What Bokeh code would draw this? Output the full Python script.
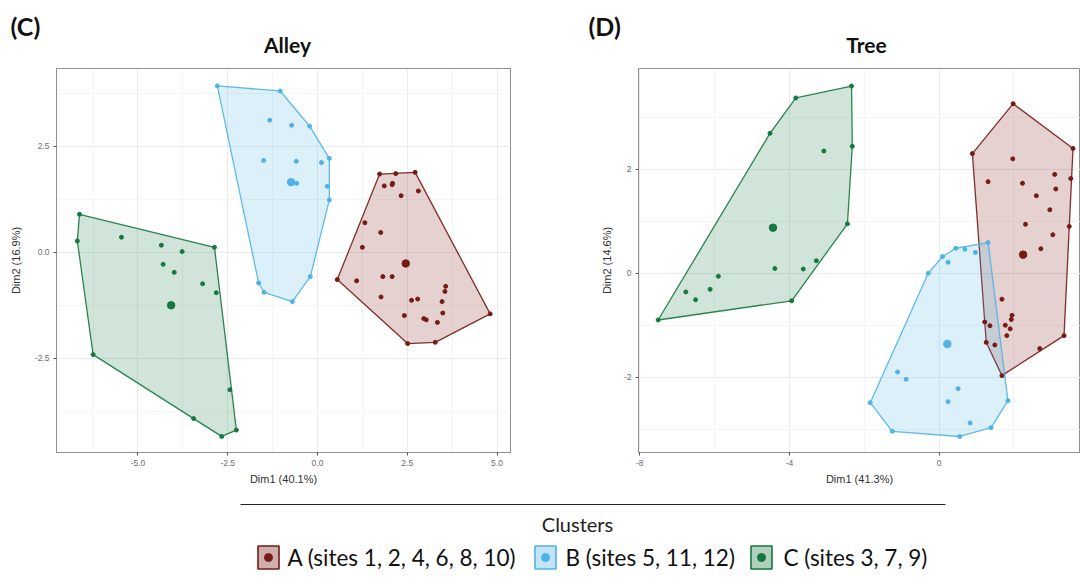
import numpy as np
from bokeh.plotting import figure
from bokeh.layouts import column, row
from bokeh.models import Range1d, FixedTicker, NumeralTickFormatter
from bokeh.core.properties import value
from bokeh.embed import file_html
from bokeh.resources import INLINE

# ---------------- data ----------------
cluster_names = ["A", "B", "C"]
legend_labels = ["A (sites 1, 2, 4, 6, 8, 10)", "B (sites 5, 11, 12)", "C (sites 3, 7, 9)"]
colors = ["#761A14", "#4FB3E6", "#16773F"]

alley_A_x = [1.73, 2.18, 2.72, 1.86, 2.09, 2.08, 2.33, 2.81, 1.32, 1.76, 1.25, 0.55, 1.09, 1.82, 2.08,
             1.77, 2.62, 2.79, 3.57, 3.55, 3.47, 2.42, 2.96, 3.03, 3.34, 3.49, 4.81, 3.28, 2.51]
alley_A_y = [1.85, 1.86, 1.89, 1.57, 1.63, 1.60, 1.34, 1.45, 0.70, 0.47, 0.12, -0.64, -0.67, -0.57, -0.57,
             -1.05, -1.13, -1.10, -0.80, -0.92, -1.16, -1.49, -1.56, -1.59, -1.65, -1.43, -1.45, -2.12, -2.15]
alley_B_x = [-2.79, -1.04, -0.22, 0.33, 0.33, -0.20, -0.70, -1.49, -1.64, -1.33, -0.72, -1.50, -0.59, -0.58, 0.11, 0.27]
alley_B_y = [3.93, 3.81, 2.98, 2.22, 1.24, -0.57, -1.16, -0.94, -0.72, 3.12, 3.00, 2.17, 2.15, 1.63, 2.12, 1.56]
alley_C_x = [-6.63, -6.69, -5.46, -4.35, -3.77, -2.87, -4.30, -3.99, -3.20, -2.82, -6.25, -2.44, -3.45, -2.67, -2.26]
alley_C_y = [0.90, 0.27, 0.36, 0.17, 0.02, 0.12, -0.28, -0.47, -0.74, -0.95, -2.41, -3.24, -3.92, -4.34, -4.19]

tree_A_x = [1.98, 3.58, 0.89, 1.97, 1.31, 2.23, 3.09, 3.52, 3.12, 2.60, 2.96, 2.31, 3.48, 3.04, 2.72,
            1.68, 1.22, 1.36, 1.95, 1.93, 1.77, 1.90, 1.81, 1.26, 1.49, 1.68, 2.69, 3.34]
tree_A_y = [3.26, 2.40, 2.30, 2.20, 1.76, 1.73, 1.90, 1.82, 1.62, 1.49, 1.22, 0.94, 0.90, 0.74, 0.47,
            -0.50, -0.94, -1.01, -0.81, -0.89, -1.00, -1.07, -1.20, -1.33, -1.38, -1.97, -1.45, -1.20]
tree_B_x = [-0.29, 0.09, 0.45, 0.69, 0.97, 1.31, 0.24, -1.11, -0.88, 0.51, 0.24, -1.84, -1.25, 0.55, 1.39, 1.84, 0.83]
tree_B_y = [0.00, 0.32, 0.48, 0.46, 0.40, 0.59, 0.21, -1.90, -2.04, -2.22, -2.47, -2.49, -3.04, -3.14, -2.97, -2.45, -2.88]
tree_C_x = [-2.34, -3.83, -4.52, -3.08, -2.32, -2.45, -4.39, -3.63, -3.28, -5.90, -6.77, -6.51, -6.12, -7.51, -3.94]
tree_C_y = [3.60, 3.37, 2.69, 2.35, 2.44, 0.95, 0.09, 0.08, 0.24, -0.06, -0.36, -0.51, -0.31, -0.90, -0.53]

alley_xticks = [-5.0, -2.5, 0.0, 2.5, 5.0]
alley_yticks = [-2.5, 0.0, 2.5]
tree_xticks = [-8, -4, 0]
tree_yticks = [-2, 0, 2]

AX_FONT = "Liberation Sans"
TXT_FONT = "Lato"


def convex_hull(xs, ys):
    pts = sorted(set(zip(xs, ys)))

    def cross(o, a, b):
        return (a[0] - o[0]) * (b[1] - o[1]) - (a[1] - o[1]) * (b[0] - o[0])

    lower, upper = [], []
    for p in pts:
        while len(lower) >= 2 and cross(lower[-2], lower[-1], p) <= 0:
            lower.pop()
        lower.append(p)
    for p in reversed(pts):
        while len(upper) >= 2 and cross(upper[-2], upper[-1], p) <= 0:
            upper.pop()
        upper.append(p)
    h = lower[:-1] + upper[:-1]
    return [q[0] for q in h], [q[1] for q in h]


def minor_between(ticks, lo, hi):
    step = ticks[1] - ticks[0]
    out = []
    t = ticks[0] - step / 2
    while t - step > lo:
        t -= step
    while t < hi:
        if lo <= t <= hi:
            out.append(t)
        t += step
    return out


def panel(series, xr, yr, xt, yt, fmt, xlabel, ylabel, width, mbl, mbr, ystand):
    p = figure(width=width, height=428, x_range=Range1d(*xr), y_range=Range1d(*yr),
               output_backend="svg", toolbar_location=None,
               min_border_left=mbl, min_border_right=mbr, min_border_top=4, min_border_bottom=40)
    p.background_fill_color = "white"
    p.border_fill_color = "white"
    p.outline_line_color = "#8F8F8F"
    p.outline_line_width = 1
    p.xaxis.ticker = FixedTicker(ticks=xt, minor_ticks=minor_between(xt, xr[0], xr[1]))
    p.yaxis.ticker = FixedTicker(ticks=yt, minor_ticks=minor_between(yt, yr[0], yr[1]))
    p.xaxis.formatter = NumeralTickFormatter(format=fmt)
    p.yaxis.formatter = NumeralTickFormatter(format=fmt)
    for ax in (p.xaxis[0], p.yaxis[0]):
        ax.axis_line_color = "#8F8F8F"
        ax.major_tick_line_color = "#555555"
        ax.major_tick_out = 3
        ax.major_tick_in = 0
        ax.minor_tick_line_color = None
        ax.major_label_text_font = AX_FONT
        ax.major_label_text_font_size = "8.5px"
        ax.major_label_text_color = "#6E6E6E"
        ax.axis_label_text_font = AX_FONT
        ax.axis_label_text_font_size = "11px"
        ax.axis_label_text_font_style = "normal"
        ax.axis_label_text_color = "#333333"
    p.xaxis.axis_label = xlabel
    p.yaxis.axis_label = ylabel
    p.xaxis.major_label_standoff = 3
    p.xaxis.axis_label_standoff = 4
    p.yaxis.major_label_standoff = 3
    p.yaxis.axis_label_standoff = ystand
    for g in (p.xgrid[0], p.ygrid[0]):
        g.grid_line_color = "#EBEBEB"
        g.grid_line_width = 1.1
        g.minor_grid_line_color = "#F2F2F2"
        g.minor_grid_line_width = 0.8

    for (xs, ys), c in zip(series, colors):
        hx, hy = convex_hull(xs, ys)
        p.patch(hx, hy, fill_color=c, fill_alpha=0.2, line_color=c, line_width=1.3, line_alpha=0.9)
    for (xs, ys), c in zip(series, colors):
        p.scatter(xs, ys, size=4, fill_color=c, line_color=c)
        p.scatter([float(np.mean(xs))], [float(np.mean(ys))], size=7.5, fill_color=c, line_color=c)
    return p


p_alley = panel([(alley_A_x, alley_A_y), (alley_B_x, alley_B_y), (alley_C_x, alley_C_y)],
                (-7.27, 5.376), (-4.72, 4.34), alley_xticks, alley_yticks, "0.0",
                "Dim1 (40.1%)", "Dim2 (16.9%)", 588, 56, 78, 10)
p_tree = panel([(tree_A_x, tree_A_y), (tree_B_x, tree_B_y), (tree_C_x, tree_C_y)],
               (-8.035, 3.78), (-3.448, 3.937), tree_xticks, tree_yticks, "0",
               "Dim1 (41.3%)", "Dim2 (14.6%)", 492, 50, 0, 8)

# ---------------- header (panel letters + titles) ----------------
head = figure(width=1080, height=64, x_range=Range1d(0, 1080), y_range=Range1d(64, 0),
              output_backend="svg", toolbar_location=None, x_axis_location=None, y_axis_location=None,
              min_border=0, outline_line_color=None)
head.grid.visible = False
head.text(x=[10, 588], y=[25, 25], text=["(C)", "(D)"], text_font=value(TXT_FONT), text_font_style="bold",
          text_font_size="25px", text_color="#111111", text_align="left", text_baseline="middle")
head.text(x=[287, 866], y=[44, 44], text=["Alley", "Tree"], text_font=value(TXT_FONT), text_font_style="bold",
          text_font_size="21px", text_color="#111111", text_align="center", text_baseline="middle")

# ---------------- shared legend ----------------
leg = figure(width=1080, height=90, x_range=Range1d(0, 1080), y_range=Range1d(90, 0),
             output_backend="svg", toolbar_location=None, x_axis_location=None, y_axis_location=None,
             min_border=0, outline_line_color=None)
leg.grid.visible = False
leg.segment(x0=[240], y0=[12], x1=[945], y1=[12], line_color="#222222", line_width=1)
leg.text(x=[577], y=[31], text=["Clusters"], text_font=value(TXT_FONT), text_font_size="20px",
         text_color="#222222", text_align="center", text_baseline="middle")
box_x = [268, 545, 761]
text_x = [287, 565, 783]
leg.rect(x=box_x, y=[65] * 3, width=21, height=23, fill_color=colors, fill_alpha=0.35,
         line_color=colors, line_width=1.6)
leg.scatter(x=box_x, y=[65] * 3, size=8, fill_color=colors, line_color=colors)
leg.text(x=text_x, y=[65] * 3, text=legend_labels, text_font=value(TXT_FONT), text_font_size="22.5px",
         text_color="#111111", text_align="left", text_baseline="middle")

layout = column(head, row(p_alley, p_tree), leg)
open("out.html", "w").write(file_html(layout, INLINE))
